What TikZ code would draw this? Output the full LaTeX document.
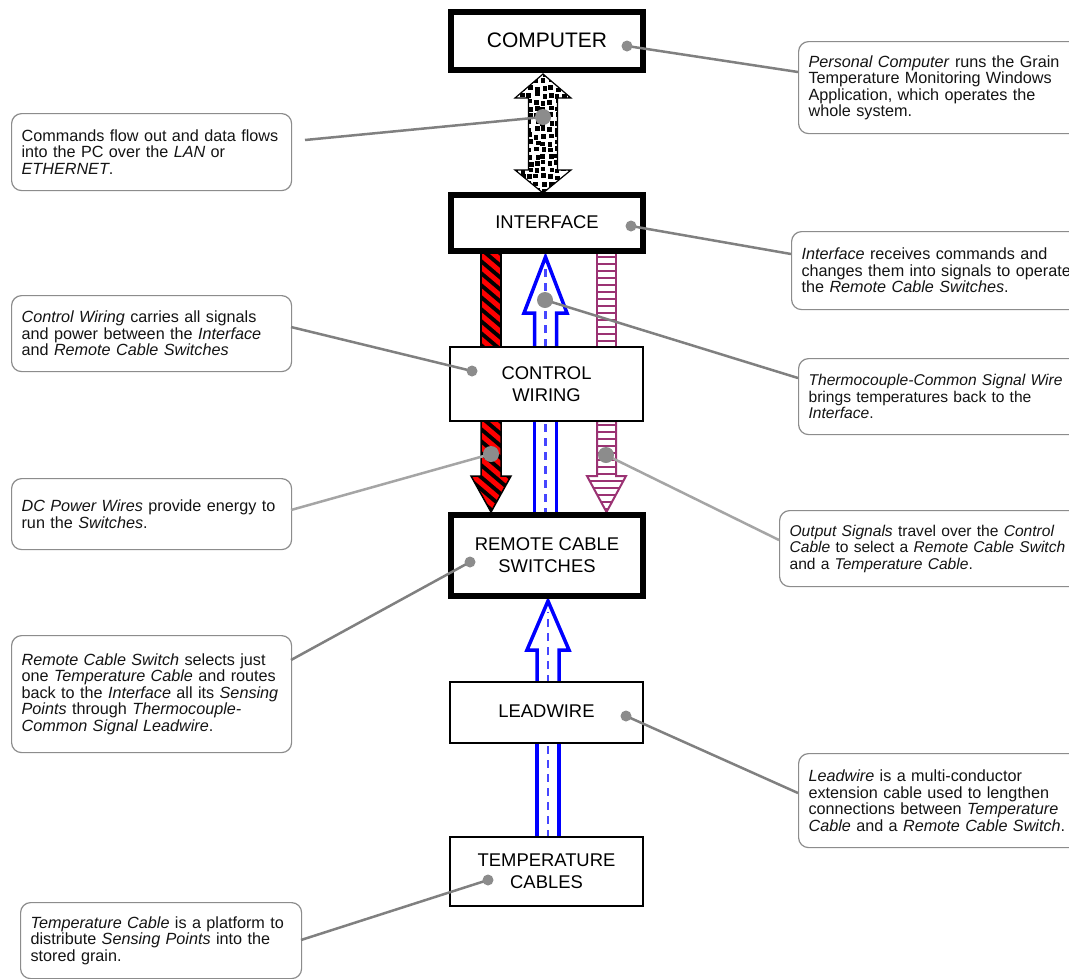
\documentclass[tikz,border=0pt]{standalone}
\usepackage{fontspec}
\setmainfont{Liberation Sans}
\usetikzlibrary{calc}
\definecolor{leadgray}{RGB}{128,128,128}
\definecolor{lightlead}{RGB}{165,165,165}
\definecolor{dotgray}{RGB}{140,140,140}
\definecolor{purp}{RGB}{155,50,115}
\definecolor{cbord}{RGB}{140,140,140}
\definecolor{txt}{RGB}{20,20,20}
\definecolor{dashblue}{RGB}{70,70,255}
\begin{document}
\begin{tikzpicture}[x=1pt,y=-1pt,
  boxthin/.style={draw=black, line width=2.5pt, fill=white, inner sep=0pt, align=center, font=\fontsize{18.4}{22}\selectfont},
  boxthick/.style={boxthin, line width=6pt},
  callout/.style={draw=cbord, line width=1.2pt, rounded corners=10pt, fill=white, anchor=north west, align=left, inner xsep=10pt, inner ysep=0pt, font=\fontsize{16.2}{16.5}\selectfont, text=txt},
  tightfont/.style={font=\fontsize{15.6}{16.5}\selectfont},
  lead/.style={draw=leadgray, line width=2.5pt},
  lightleadline/.style={draw=lightlead, line width=2.5pt},
  smalldot/.style={circle, fill=dotgray, inner sep=0pt, minimum size=11pt},
  bigdot/.style={circle, fill=dotgray, inner sep=0pt, minimum size=16pt},
  blueout/.style={draw=blue, line width=3.5pt, fill=white, line join=miter},
  bluedash/.style={draw=dashblue, line width=2.5pt, dash pattern=on 8pt off 6pt},
  purpout/.style={draw=purp, line width=2pt, line join=miter},
  rung/.style={draw=purp, line width=1.5pt},
  stripe/.style={draw=red, line width=5pt}
  ]
\useasboundingbox (0,0) rectangle (1069,978);
\clip (0,0) rectangle (1069,978);
\fill[white] (0,0) rectangle (1069,978);

% ---------- double arrow (checkered) ----------
\def\dblpath{(543,74) -- (571,98) -- (557.5,98) -- (557.5,170) -- (571,170) -- (543,193) -- (515,170) -- (528.5,170) -- (528.5,98) -- (515,98) -- cycle}
\begin{scope}
  \clip \dblpath;
  \fill[white] (505,70) rectangle (580,200);
  \pgfmathsetseed{5}
  \foreach \i in {0,...,9}{\foreach \j in {0,...,18}{
    \pgfmathsetmacro\dx{rnd*3}\pgfmathsetmacro\dy{rnd*3}
    \fill[black] ({512+\i*7+\dx},{71+\j*6.8+\dy}) rectangle ++(4.6,4.6);}}
\end{scope}
\draw[black,line width=1.2pt,line join=miter] \dblpath;

% ---------- black/red power arrow ----------
\def\blkA{(481,253) rectangle (501,347)}
\def\blkB{(481,421) -- (501,421) -- (501,476) -- (511,476) -- (491,512) -- (471,476) -- (481,476) -- cycle}
\fill[black] \blkA;
\begin{scope}\clip \blkA;
  \foreach \k in {0,...,26} \draw[stripe] (468,{220+\k*12}) -- (515,{260+\k*12});
\end{scope}
\draw[black,line width=1.5pt] \blkA;
\fill[black] \blkB;
\begin{scope}\clip \blkB;
  \foreach \k in {0,...,26} \draw[stripe] (468,{220+\k*12}) -- (515,{260+\k*12});
\end{scope}
\draw[black,line width=1.5pt,line join=miter] \blkB;

% ---------- blue thermocouple arrows ----------
\draw[blueout] (534.5,349) -- (534.5,313) -- (524,313) -- (545.5,257) -- (567,313) -- (556.5,313) -- (556.5,349);
\draw[bluedash] (545.5,347) -- (545.5,268);
\draw[blueout] (534.5,419) -- (534.5,515) (556.5,419) -- (556.5,515);
\draw[bluedash] (545.5,424) -- (545.5,513);
\draw[blueout] (537,685) -- (537,650) -- (527,650) -- (548,601) -- (569,650) -- (559,650) -- (559,685);
\draw[bluedash] (548,683) -- (548,612);
\draw[blueout] (537,741) -- (537,839) (559,741) -- (559,839);
\draw[bluedash] (548,746) -- (548,837);

% ---------- purple output arrow ----------
\def\purA{(597,253) rectangle (616,347)}
\def\purB{(597,421) -- (616,421) -- (616,476) -- (626,476) -- (606.5,512) -- (587,476) -- (597,476) -- cycle}
\fill[white] \purA;
\begin{scope}\clip \purA;
  \foreach \k in {0,...,14} \draw[rung] (590,{257+\k*7}) -- (630,{257+\k*7});
\end{scope}
\draw[purpout] \purA;
\fill[white] \purB;
\begin{scope}\clip \purB;
  \foreach \k in {0,...,13} \draw[rung] (580,{425+\k*7}) -- (635,{425+\k*7});
\end{scope}
\draw[purpout] \purB;

% ---------- main boxes ----------
\node[boxthick, minimum width=192pt, minimum height=58pt, font=\fontsize{21}{24}\selectfont] (comp) at (547,41) {\raisebox{2.5pt}{COMPUTER}};
\node[boxthick, minimum width=192pt, minimum height=56pt] (intf) at (547,223) {\raisebox{2pt}{INTERFACE}};
\node[boxthin, minimum width=193pt, minimum height=74pt] (ctrl) at (546.5,384) {CONTROL\\WIRING};
\node[boxthick, minimum width=192pt, minimum height=81pt] (rcs) at (547,555.5) {REMOTE CABLE\\SWITCHES};
\node[boxthin, minimum width=193pt, minimum height=61pt] (lead) at (546.5,712.5) {\raisebox{3pt}{LEADWIRE}};
\node[boxthin, minimum width=193pt, minimum height=69pt] (temp) at (546.5,871.5) {TEMPERATURE\\CABLES};

% ---------- callouts ----------
\node[callout, text width=260pt, minimum height=77pt] (cA) at (11,113) {\mbox{Commands flow out and data flows}\\\mbox{into the PC over the \textit{LAN} or}\\\mbox{\textit{ETHERNET}.}};
\node[callout, text width=282pt, minimum height=92pt] (cB) at (798,41) {\mbox{\textit{Personal Computer} runs the Grain}\\\mbox{Temperature Monitoring Windows}\\\mbox{Application, which operates the}\\\mbox{whole system.}};
\node[callout, text width=285pt, minimum height=78pt] (cC) at (791,231) {\mbox{\textit{Interface} receives commands and}\\\mbox{changes them into signals to operate}\\\mbox{the \textit{Remote Cable Switches}.}};
\node[callout, text width=260pt, minimum height=76pt] (cD) at (11,295) {\mbox{\textit{Control Wiring} carries all signals}\\\mbox{and power between the \textit{Interface}}\\\mbox{and \textit{Remote Cable Switches}}};
\node[callout, tightfont, text width=282pt, minimum height=76pt] (cE) at (798,358) {\mbox{\textit{Thermocouple-Common Signal Wire}}\\\mbox{brings temperatures back to the}\\\mbox{\textit{Interface}.}};
\node[callout, text width=260pt, minimum height=71pt] (cF) at (11,478) {\mbox{\textit{DC Power Wires} provide energy to}\\\mbox{run the \textit{Switches}.}};
\node[callout, tightfont, text width=292pt, minimum height=76pt] (cG) at (779,510) {\mbox{\textit{Output Signals} travel over the \textit{Control}}\\\mbox{\textit{Cable} to select a \textit{Remote Cable Switch}}\\\mbox{and a \textit{Temperature Cable}.}};
\node[callout, text width=260pt, minimum height=117pt] (cH) at (11,635) {\mbox{\textit{Remote Cable Switch} selects just}\\\mbox{one \textit{Temperature Cable} and routes}\\\mbox{back to the \textit{Interface} all its \textit{Sensing}}\\\mbox{\textit{Points} through \textit{Thermocouple-}}\\\mbox{\textit{Common Signal Leadwire}.}};
\node[callout, text width=282pt, minimum height=94pt] (cI) at (798,753) {\mbox{\textit{Leadwire} is a multi-conductor}\\\mbox{extension cable used to lengthen}\\\mbox{connections between \textit{Temperature}}\\\mbox{\textit{Cable} and a \textit{Remote Cable Switch}.}};
\node[callout, text width=261pt, minimum height=76pt] (cJ) at (20,902) {\mbox{\textit{Temperature Cable} is a platform to}\\\mbox{distribute \textit{Sensing Points} into the}\\\mbox{stored grain.}};

% ---------- leader lines ----------
\coordinate (pComp) at (627,46);   \coordinate (eB) at (798,72);
\coordinate (pDbl) at (543,117);   \coordinate (eA) at (305,140);
\coordinate (pInt) at (631,226);   \coordinate (eC) at (791,254);
\coordinate (pBlue) at (545,300);  \coordinate (eE) at (798,378);
\coordinate (pCtl) at (472,371);   \coordinate (eD) at (291,327);
\coordinate (pBlk) at (491,454);   \coordinate (eF) at (291,510);
\coordinate (pPur) at (606,455);   \coordinate (eG) at (779,540);
\coordinate (pRcs) at (470,562);   \coordinate (eH) at (291,660);
\coordinate (pLead) at (626,716);  \coordinate (eI) at (798,793);
\coordinate (pTemp) at (488,880);  \coordinate (eJ) at (301,940);

\draw[lead] (pComp) -- (eB);
\draw[lead] (pDbl) -- (eA);
\draw[lead] (pInt) -- (eC);
\draw[lead] (pBlue) -- (eE);
\draw[lead] (pCtl) -- (eD);
\draw[lightleadline] (pBlk) -- (eF);
\draw[lightleadline] (pPur) -- (eG);
\draw[lead] (pRcs) -- (eH);
\draw[lead] (pLead) -- (eI);
\draw[lead] (pTemp) -- (eJ);

\node[smalldot] (dComp) at (pComp) {};
\node[bigdot] (dDbl) at (pDbl) {};
\node[smalldot] (dInt) at (pInt) {};
\node[bigdot] (dBlue) at (pBlue) {};
\node[smalldot] (dCtl) at (pCtl) {};
\node[bigdot] (dBlk) at (pBlk) {};
\node[bigdot] (dPur) at (pPur) {};
\node[smalldot] (dRcs) at (pRcs) {};
\node[smalldot] (dLead) at (pLead) {};
\node[smalldot] (dTemp) at (pTemp) {};
\end{tikzpicture}
\end{document}
